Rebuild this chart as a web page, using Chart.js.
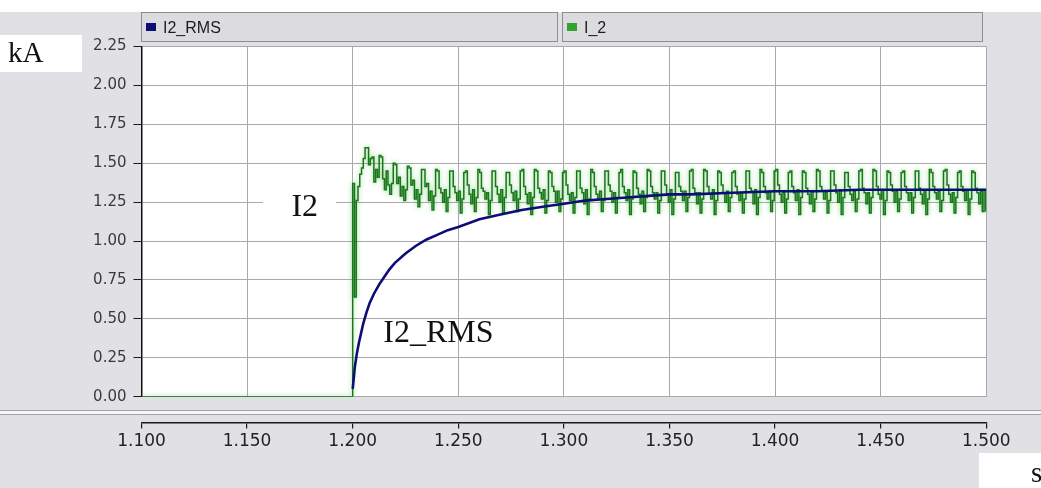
<!DOCTYPE html>
<html>
<head>
<meta charset="utf-8">
<script src="https://cdn.jsdelivr.net/npm/chart.js@4/dist/chart.umd.min.js"></script>
<style>
  html, body { margin: 0; padding: 0; background: #ffffff; overflow: hidden; }
  #wrap { position: relative; width: 1041px; height: 488px; }
</style>
</head>
<body>
<div id="wrap"><canvas id="c" width="1041" height="488"></canvas></div>
<script>
// Axis ticks (time in s, current in kA)
const xTickValues = [1.100, 1.150, 1.200, 1.250, 1.300, 1.350, 1.400, 1.450, 1.500];
const yTickValues = [0.00, 0.25, 0.50, 0.75, 1.00, 1.25, 1.50, 1.75, 2.00, 2.25];

// Series names
const seriesNames = ['I2_RMS', 'I_2'];

// I_2: zero before the switching instant, then sampled current
const i2PreTimes = [1.100];
const i2PreValues = [0.00];
const i2SampleStart = 1.200;     // s, first sample
const i2SampleStep = 0.000835;   // s, sampling interval
const i2Samples = [
  1.37, 0.64, 1.26, 1.35, 1.43, 1.47, 1.53,
  1.60, 1.60, 1.49, 1.53, 1.54, 1.38, 1.46, 1.41,
  1.55, 1.54, 1.40, 1.33, 1.45, 1.36, 1.30, 1.37,
  1.50, 1.49, 1.37, 1.41, 1.29, 1.35, 1.26, 1.33,
  1.48, 1.47, 1.36, 1.39, 1.27, 1.33, 1.22, 1.30,
  1.46, 1.46, 1.35, 1.37, 1.26, 1.32, 1.20, 1.29,
  1.46, 1.45, 1.34, 1.31, 1.25, 1.33, 1.19, 1.28,
  1.45, 1.45, 1.35, 1.31, 1.26, 1.32, 1.18, 1.27,
  1.44, 1.45, 1.36, 1.30, 1.24, 1.33, 1.19, 1.28,
  1.46, 1.44, 1.34, 1.32, 1.27, 1.31, 1.17, 1.26,
  1.45, 1.45, 1.35, 1.30, 1.25, 1.33, 1.18, 1.28,
  1.44, 1.44, 1.36, 1.31, 1.26, 1.32, 1.19, 1.27,
  1.45, 1.46, 1.35, 1.30, 1.24, 1.31, 1.17, 1.28,
  1.46, 1.45, 1.34, 1.31, 1.27, 1.33, 1.18, 1.26,
  1.45, 1.44, 1.35, 1.32, 1.25, 1.32, 1.19, 1.27,
  1.44, 1.45, 1.36, 1.30, 1.26, 1.31, 1.18, 1.28,
  1.45, 1.45, 1.34, 1.31, 1.24, 1.33, 1.17, 1.27,
  1.46, 1.44, 1.35, 1.30, 1.27, 1.32, 1.19, 1.26,
  1.45, 1.45, 1.36, 1.32, 1.25, 1.31, 1.18, 1.28,
  1.44, 1.46, 1.35, 1.31, 1.26, 1.33, 1.17, 1.27,
  1.45, 1.44, 1.34, 1.30, 1.24, 1.32, 1.19, 1.28,
  1.46, 1.45, 1.35, 1.31, 1.27, 1.31, 1.18, 1.26,
  1.45, 1.45, 1.36, 1.30, 1.25, 1.33, 1.17, 1.27,
  1.44, 1.44, 1.35, 1.32, 1.26, 1.32, 1.19, 1.28,
  1.45, 1.46, 1.34, 1.31, 1.24, 1.31, 1.18, 1.27,
  1.46, 1.45, 1.35, 1.30, 1.27, 1.33, 1.17, 1.26,
  1.45, 1.44, 1.36, 1.31, 1.25, 1.32, 1.19, 1.28,
  1.44, 1.45, 1.35, 1.30, 1.26, 1.31, 1.18, 1.27,
  1.45, 1.45, 1.34, 1.32, 1.24, 1.33, 1.17, 1.28,
  1.46, 1.44, 1.35, 1.31, 1.27, 1.32, 1.19, 1.26,
  1.45, 1.46, 1.36, 1.30, 1.25, 1.31, 1.18, 1.27,
  1.44, 1.45, 1.35, 1.31, 1.26, 1.33, 1.17, 1.28,
  1.45, 1.44, 1.34, 1.30, 1.24, 1.32, 1.19, 1.27,
  1.46, 1.45, 1.35, 1.32, 1.27, 1.31, 1.18, 1.26,
  1.45, 1.45, 1.36, 1.31, 1.25, 1.33, 1.17, 1.28,
  1.44, 1.44, 1.35, 1.30, 1.26, 1.32, 1.19, 1.27,
  1.45, 1.46, 1.34, 1.31, 1.24, 1.31, 1.18, 1.28,
  1.46, 1.45, 1.35, 1.30, 1.27, 1.33, 1.17, 1.26,
  1.45, 1.44, 1.36, 1.32, 1.25, 1.32, 1.19, 1.27,
  1.44, 1.45, 1.35, 1.31, 1.26, 1.31, 1.18, 1.28,
  1.45, 1.45, 1.34, 1.30, 1.24, 1.33, 1.17, 1.27,
  1.46, 1.44, 1.35, 1.31, 1.27, 1.32, 1.19, 1.26,
  1.45, 1.46, 1.36, 1.30, 1.25, 1.31, 1.18, 1.28,
  1.44, 1.45, 1.35, 1.32, 1.26, 1.33, 1.17, 1.27,
  1.45, 1.44, 1.34, 1.31, 1.24, 1.32, 1.19, 1.33,
  1.19
];

// I2_RMS: running RMS value of I_2
const rmsTimes = [
  1.2000, 1.2005, 1.2010, 1.2020, 1.2030, 1.2040, 1.2050, 1.2065, 1.2080, 1.2100,
  1.2125, 1.2150, 1.2175, 1.2200, 1.2250, 1.2300, 1.2350, 1.2400, 1.2450, 1.2500,
  1.2600, 1.2700, 1.2800, 1.2900, 1.3000, 1.3100, 1.3200, 1.3300, 1.3400, 1.3500,
  1.3600, 1.3800, 1.4000, 1.4200, 1.4400, 1.4600, 1.4800, 1.5000
];
const rmsValues = [
  0.05, 0.12, 0.19, 0.28, 0.35, 0.41, 0.47, 0.54, 0.60, 0.66,
  0.72, 0.77, 0.82, 0.86, 0.92, 0.97, 1.01, 1.04, 1.07, 1.09,
  1.14, 1.17, 1.20, 1.22, 1.24, 1.26, 1.27, 1.28, 1.29, 1.30,
  1.30, 1.31, 1.32, 1.32, 1.33, 1.33, 1.33, 1.33
];

// Annotation texts
const unitY = 'kA';
const unitX = 's';
const curveLabels = [
  { text: 'I2', x: 1.1710, y: 1.16, box: [263, 186, 73, 40] },
  { text: 'I2_RMS', x: 1.2145, y: 0.35, box: null }
];

const colors = { rms: '#0d0d78', i2: '#1a761a', i2Key: '#2fa52f' };

const i2Data = i2PreTimes.map((t, i) => ({ x: t, y: i2PreValues[i] }))
  .concat(i2Samples.map((v, i) => ({ x: i2SampleStart + i * i2SampleStep, y: v })));
const rmsData = rmsTimes.map((t, i) => ({ x: t, y: rmsValues[i] }));

const BG = '#e1e1e5';

const framePlugin = {
  id: 'frame',
  beforeDraw(chart) {
    const { ctx, chartArea: a, width, height } = chart;
    ctx.save();
    ctx.fillStyle = BG;
    ctx.fillRect(0, 0, width, height);
    ctx.fillStyle = '#ffffff';
    ctx.fillRect(0, 0, width, 12);
    // legend strip: one cell per series
    const cells = [[141, 558], [562, 983]];
    chart.data.datasets.forEach((ds, i) => {
      const [l, r] = cells[i];
      ctx.fillStyle = '#dcdce0';
      ctx.fillRect(l, 12, r - l, 30);
      ctx.strokeStyle = '#8e8e92';
      ctx.lineWidth = 1;
      ctx.strokeRect(l + 0.5, 12.5, r - l - 1, 29);
      ctx.fillStyle = ds.keyColor;
      ctx.fillRect(l + 5, 23, 10, 8);
      ctx.fillStyle = '#1c1c1c';
      ctx.font = '16px "Liberation Sans", Arial, sans-serif';
      ctx.textBaseline = 'alphabetic';
      ctx.textAlign = 'left';
      ctx.fillText(ds.label, l + 22, 33);
    });
    // unit label boxes
    ctx.fillStyle = '#ffffff';
    ctx.fillRect(0, 35, 82, 37);
    ctx.fillRect(979, 453, 62, 35);
    // etched separator between plot and time axis
    ctx.fillStyle = '#a3a3a7';
    ctx.fillRect(0, 410, width, 1);
    ctx.fillStyle = '#f6f6f8';
    ctx.fillRect(0, 411, width, 3);
    ctx.fillStyle = '#a3a3a7';
    ctx.fillRect(0, 414, width, 1);
    // plot background
    ctx.fillStyle = '#ffffff';
    ctx.fillRect(a.left, a.top, a.right - a.left, a.bottom - a.top);
    ctx.restore();
  },
  beforeDatasetDraw(chart, args) {
    const ds = chart.data.datasets[args.index];
    chart.ctx.save();
    if (ds.glow) {
      chart.ctx.shadowColor = ds.glow;
      chart.ctx.shadowBlur = 5;
    }
  },
  afterDatasetDraw(chart) {
    chart.ctx.restore();
  },
  afterDatasetsDraw(chart) {
    const { ctx, scales } = chart;
    ctx.save();
    ctx.textBaseline = 'alphabetic';
    ctx.textAlign = 'left';
    ctx.fillStyle = '#111111';
    ctx.font = '32px "Liberation Serif", "Times New Roman", serif';
    curveLabels.forEach(c => {
      if (c.box) {
        ctx.fillStyle = '#ffffff';
        ctx.fillRect(c.box[0], c.box[1], c.box[2], c.box[3]);
        ctx.fillStyle = '#111111';
      }
      ctx.fillText(c.text, scales.x.getPixelForValue(c.x), scales.y.getPixelForValue(c.y));
    });
    ctx.font = '29px "Liberation Serif", "Times New Roman", serif';
    ctx.fillText(unitY, 8, 62);
    ctx.fillText(unitX, 1031, 482);
    ctx.restore();
  }
};

new Chart(document.getElementById('c'), {
  type: 'line',
  data: {
    datasets: [
      {
        label: seriesNames[0], data: rmsData, borderColor: colors.rms, keyColor: colors.rms,
        borderWidth: 2.6, pointRadius: 0, tension: 0, order: 0
      },
      {
        label: seriesNames[1], data: i2Data, borderColor: colors.i2, keyColor: colors.i2Key,
        glow: 'rgba(60,185,60,0.6)',
        borderWidth: 1.5, pointRadius: 0, stepped: true, order: 1
      }
    ]
  },
  options: {
    responsive: false,
    animation: false,
    events: [],
    layout: { padding: { top: 46.5, right: 54.7, bottom: 0, left: 0 } },
    plugins: { legend: { display: false }, tooltip: { enabled: false } },
    scales: {
      x: {
        type: 'linear', position: 'bottom', min: 1.1, max: 1.5, weight: 0,
        afterBuildTicks: s => { s.ticks = xTickValues.map(v => ({ value: v })); },
        afterFit: s => { s.height = 25.8; },
        ticks: { display: false },
        grid: { color: '#a9a9ad', lineWidth: 1, drawTicks: false },
        border: { display: false }
      },
      x2: {
        type: 'linear', position: 'bottom', min: 1.1, max: 1.5, weight: 1,
        afterBuildTicks: s => { s.ticks = xTickValues.map(v => ({ value: v })); },
        afterFit: s => { s.height = 65.5; },
        ticks: {
          color: '#222222', padding: 3, maxRotation: 0, autoSkip: false,
          font: { family: '"DejaVu Sans", sans-serif', size: 17 },
          callback: v => v.toFixed(3)
        },
        grid: { drawOnChartArea: false, drawTicks: true, tickLength: 6, tickColor: '#1a1a1a', lineWidth: 1.2 },
        border: { display: true, color: '#1a1a1a', width: 1.6 }
      },
      y: {
        type: 'linear', position: 'left', min: 0, max: 2.25,
        afterBuildTicks: s => { s.ticks = yTickValues.map(v => ({ value: v })); },
        afterFit: s => { s.width = 141.5; },
        ticks: {
          color: '#3a3a3a', padding: 7, autoSkip: false,
          font: { family: '"DejaVu Sans", sans-serif', size: 15 },
          callback: v => v.toFixed(2)
        },
        grid: { color: '#a9a9ad', lineWidth: 1, drawTicks: true, tickLength: 8, tickColor: '#1a1a1a' },
        border: { display: true, color: '#111111', width: 1.5 }
      }
    }
  },
  plugins: [framePlugin]
});
</script>
</body>
</html>
